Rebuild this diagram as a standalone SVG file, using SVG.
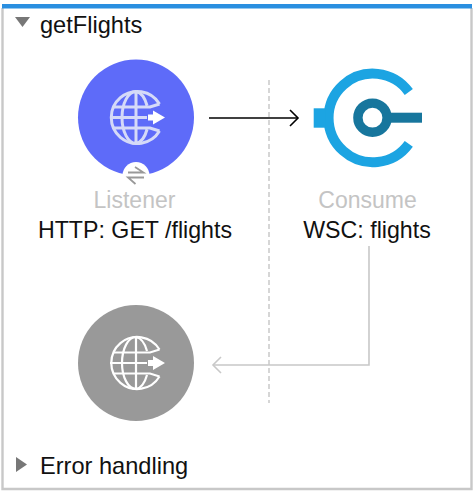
<svg xmlns="http://www.w3.org/2000/svg" width="474" height="492" viewBox="0 0 474 492">
<style>
.t{font-family:"Liberation Sans",Arial,sans-serif;font-size:23.200px;fill:#111}
.h{font-size:23.600px}
.m{text-anchor:middle}
.g{font-family:"Liberation Sans",Arial,sans-serif;font-size:23px;fill:#c4c4c4;text-anchor:middle}
.gl{fill:none;stroke-width:3}
.gt{stroke-width:2.200}
</style>
<defs>
<g id="globe">
<path d="M23.500 -13.500A26 26 0 1 0 23.500 13.500" fill="none"/>
<path fill="none" d="M0 -26A14 26 0 0 0 0 26M0 -26A14 26 0 0 1 11 -12M11 12A14 26 0 0 1 0 26M0 -26V26M-23 -10.500H14L23.500 -13.500M-23 10.500H14L23.500 13.500M-26 0H11"/>
<path d="M12 -3H17V-7L29 0L17 7V3H12Z" fill="#fff" stroke="none"/>
</g>
<marker id="blk" markerWidth="14" markerHeight="20" refX="12" refY="10" orient="auto" markerUnits="userSpaceOnUse"><path d="M4 2L12 10L4 18" fill="none" stroke="#000" stroke-width="1.600"/></marker>
<marker id="gry" markerWidth="14" markerHeight="20" refX="12" refY="10" orient="auto" markerUnits="userSpaceOnUse"><path d="M4 2L12 10L4 18" fill="none" stroke="#c8c8c8" stroke-width="1.600"/></marker>
</defs>
<rect width="474" height="492" fill="#fff"/>
<g id="frame">
<path d="M2.500 8V489H471.500V8" fill="none" stroke="#c8c8c8" stroke-width="2.400"/>
<rect x="2" y="4" width="470" height="4.500" fill="#2a8fe0"/>
<path d="M15 17H30L22.500 27Z" fill="#777"/>
<path d="M16 457L27 464.500L16 472Z" fill="#777"/>
<text class="t h" x="40" y="33">getFlights</text>
<text class="t h" x="40" y="474">Error handling</text>
<line x1="269" y1="80" x2="269" y2="403" stroke="#bbb" stroke-width="1.200" stroke-dasharray="5 3"/>
</g>
<g id="connectors">
<line x1="209" y1="118" x2="298" y2="118" stroke="#000" stroke-width="1.600" marker-end="url(#blk)"/>
<path d="M369 246V365H213" fill="none" stroke="#c8c8c8" stroke-width="1.600" marker-end="url(#gry)"/>
</g>
<g id="listener">
<circle cx="136" cy="117.500" r="58" fill="#5e6bf9"/>
<use href="#globe" x="136" y="117.500" stroke="#d5daf8" stroke-width="3"/>
<circle cx="136" cy="175.500" r="13.500" fill="#fff"/>
<path d="M128 172.500H143.500L135 167M144 177.500H128L135.500 184" fill="none" stroke="#999" stroke-width="1.800"/>
<text class="g" x="134.500" y="208">Listener</text>
<text class="t m" x="135" y="238">HTTP: GET /flights</text>
</g>
<g id="consume">
<path d="M408.800 92A44.300 44.300 0 1 0 408.800 143.800" fill="none" stroke="#1ca4e2" stroke-width="10"/>
<rect x="313.700" y="108.300" width="12" height="19.400" fill="#1ca4e2"/>
<circle cx="372.500" cy="117.700" r="14.600" fill="none" stroke="#17769d" stroke-width="9.400"/>
<rect x="391" y="112.700" width="31" height="10" fill="#17769d"/>
<text class="g" x="367.500" y="208">Consume</text>
<text class="t m" x="367" y="238">WSC: flights</text>
</g>
<g id="source-response">
<circle cx="136" cy="363" r="58" fill="#999"/>
<use href="#globe" x="136" y="363" stroke="#fff" stroke-width="2.200"/>
</g>
</svg>
